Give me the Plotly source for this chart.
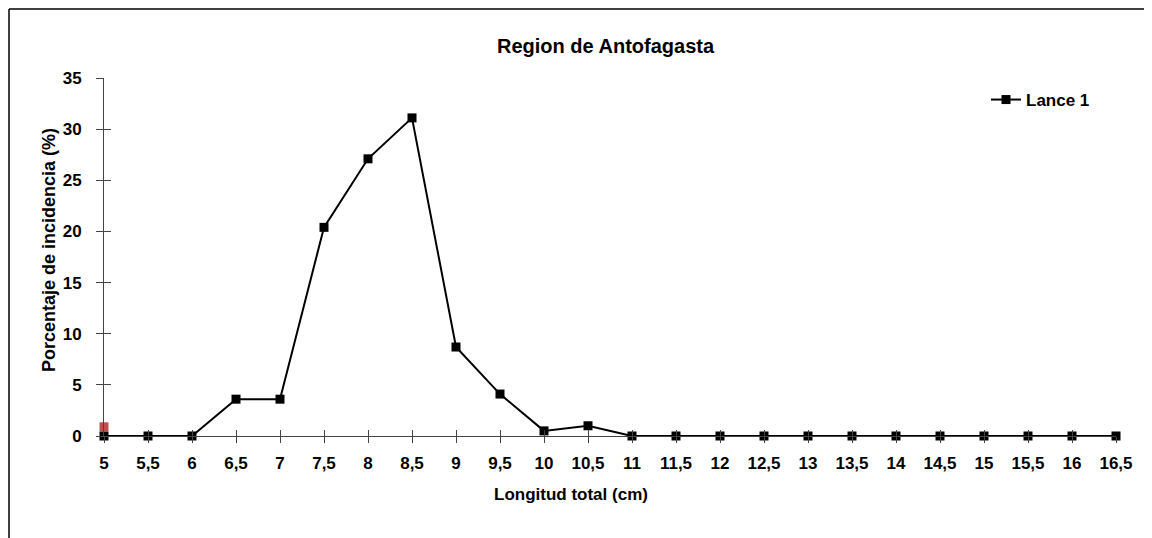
import plotly.graph_objects as go

longitud = [5, 5.5, 6, 6.5, 7, 7.5, 8, 8.5, 9, 9.5, 10, 10.5, 11, 11.5, 12, 12.5, 13, 13.5, 14, 14.5, 15, 15.5, 16, 16.5]
lance1 = [0, 0, 0, 3.6, 3.6, 20.4, 27.1, 31.1, 8.7, 4.1, 0.5, 1.0, 0, 0, 0, 0, 0, 0, 0, 0, 0, 0, 0, 0]
extra_x = [5]
extra_y = [0.9]
tick_text = [str(v).replace(".", ",") for v in longitud]
y_ticks = [0, 5, 10, 15, 20, 25, 30, 35]

FONT = "Liberation Sans, Arial, sans-serif"

# screen-space layout targets (page body has an 8px margin)
OFF = 8
PL, PR, PT, PB = 104, 1116, 78, 436
PW, PH = PR - PL, PB - PT


def px(x):
    return (x - PL) / PW


def py(y):
    return (PB - y) / PH


fig = go.Figure()
fig.add_trace(go.Scatter(x=extra_x, y=extra_y, mode="markers", showlegend=False,
                         marker=dict(symbol="square", size=9, color="#c0504d"),
                         cliponaxis=False))
fig.add_trace(go.Scatter(x=longitud, y=lance1, mode="lines+markers", name="Lance 1",
                         line=dict(color="black", width=2),
                         marker=dict(symbol="square", size=9, color="black"),
                         cliponaxis=False))
# overlay axes for outward half of crossing ticks
fig.add_trace(go.Scatter(x=longitud, y=lance1, mode="markers", xaxis="x2", yaxis="y2",
                         showlegend=False, hoverinfo="skip",
                         marker=dict(opacity=0), cliponaxis=False))

tickcol = "#444444"
fig.update_layout(
    width=1152, height=538,
    paper_bgcolor="white", plot_bgcolor="white",
    margin=dict(l=PL - OFF, r=1152 + OFF - PR, t=PT - OFF, b=538 + OFF - PB),
    font=dict(family=FONT, size=17, color="black"),
    showlegend=True,
    legend=dict(x=px(986), y=py(100), xanchor="left", yanchor="middle",
                bgcolor="rgba(0,0,0,0)", font=dict(family=FONT, size=17, color="black", weight="bold"),
                itemwidth=30, tracegroupgap=0),
    xaxis=dict(range=[5, 16.5], tickvals=longitud, ticktext=tick_text,
               showgrid=False, zeroline=False, showline=True, linecolor=tickcol, linewidth=1,
               ticks="inside", ticklen=6, tickcolor=tickcol, ticklabelstandoff=12,
               tickfont=dict(family=FONT, size=17, weight="bold")),
    yaxis=dict(range=[0, 35], tickvals=y_ticks,
               showgrid=False, zeroline=False, showline=True, linecolor=tickcol, linewidth=1,
               ticks="inside", ticklen=7, tickcolor=tickcol, ticklabelstandoff=18,
               tickfont=dict(family=FONT, size=17, weight="bold")),
    xaxis2=dict(range=[5, 16.5], tickvals=longitud, overlaying="x", showticklabels=False,
                showgrid=False, zeroline=False, showline=False,
                ticks="outside", ticklen=6, tickcolor=tickcol, anchor="y2", side="bottom"),
    yaxis2=dict(range=[0, 35], tickvals=y_ticks, overlaying="y", showticklabels=False,
                showgrid=False, zeroline=False, showline=False,
                ticks="outside", ticklen=7, tickcolor=tickcol, anchor="x2", side="left"),
)

fig.add_annotation(text="<b>Region de Antofagasta</b>", xref="paper", yref="paper",
                   x=px(606), y=py(46), showarrow=False, xanchor="center", yanchor="middle",
                   font=dict(family=FONT, size=20, color="black"))
fig.add_annotation(text="<b>Longitud total (cm)</b>", xref="paper", yref="paper",
                   x=px(571), y=py(494), showarrow=False, xanchor="center", yanchor="middle",
                   font=dict(family=FONT, size=17, color="black"))
fig.add_annotation(text="<b>Porcentaje de incidencia (%)</b>", xref="paper", yref="paper",
                   x=px(49), y=py(250), showarrow=False, textangle=-90,
                   xanchor="center", yanchor="middle",
                   font=dict(family=FONT, size=18, color="black"))

# outer border (left and top)
bx, by = 9, 9
fig.add_shape(type="line", xref="paper", yref="paper",
              x0=px(bx), x1=px(bx), y0=py(560), y1=py(by),
              line=dict(color="black", width=1.5))
fig.add_shape(type="line", xref="paper", yref="paper",
              x0=px(bx), x1=px(1170), y0=py(by), y1=py(by),
              line=dict(color="black", width=1.5))

fig.write_html("out.html")
